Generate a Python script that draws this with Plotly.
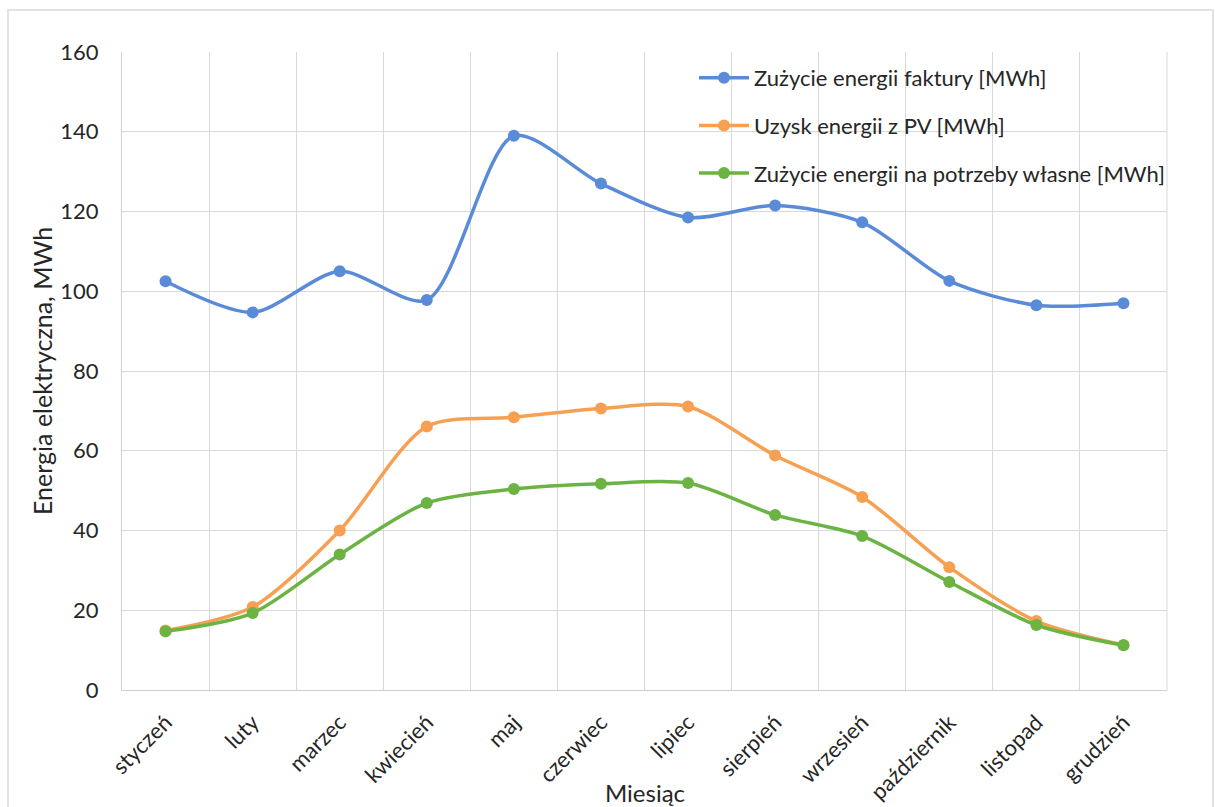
import plotly.graph_objects as go

# Months of the year (Polish)
miesiace = ["styczeń", "luty", "marzec", "kwiecień", "maj", "czerwiec",
            "lipiec", "sierpień", "wrzesień", "październik", "listopad", "grudzień"]

# Monthly energy values [MWh]
zuzycie_faktury = [102.5, 94.7, 105.0, 97.8, 139.0, 127.0,
                   118.5, 121.5, 117.3, 102.6, 96.5, 97.0]
uzysk_pv = [14.9, 20.8, 40.0, 66.1, 68.4, 70.6,
            71.1, 58.8, 48.4, 30.8, 17.3, 11.3]
zuzycie_wlasne = [14.7, 19.3, 34.0, 46.9, 50.4, 51.7,
                  51.9, 43.9, 38.6, 27.1, 16.3, 11.2]

series = [
    ("Zużycie energii faktury [MWh]", zuzycie_faktury, "#5A8BD8"),
    ("Uzysk energii z PV [MWh]", uzysk_pv, "#F7A052"),
    ("Zużycie energii na potrzeby własne [MWh]", zuzycie_wlasne, "#6BB343"),
]

FONT = "Lato, 'Open Sans', sans-serif"
TEXT = "#262626"

# plot-area geometry in pixels
W, H = 1215, 807
ML, MR, MT, MB = 122, 48, 52, 117
PW, PH = W - ML - MR, H - MT - MB


def px_x(x):
    return (x - ML) / PW


def px_y(y):
    return (H - MB - y) / PH


fig = go.Figure()
for i, (name, values, color) in enumerate(series):
    fig.add_trace(go.Scatter(
        x=miesiace, y=values, name=name,
        mode="lines+markers",
        line=dict(color=color, width=3.5, shape="spline", smoothing=0.8),
        marker=dict(color=color, size=12),
        legendgroup=f"g{i}",
    ))

fig.update_layout(
    width=W, height=H,
    margin=dict(l=ML, r=MR, t=MT, b=MB),
    paper_bgcolor="white", plot_bgcolor="white",
    font=dict(family=FONT, color=TEXT, size=20),
    showlegend=True,
    legend=dict(
        x=px_x(694), y=px_y(57), xanchor="left", yanchor="top",
        bgcolor="rgba(0,0,0,0)",
        font=dict(size=22, color=TEXT, family=FONT),
        traceorder="grouped", tracegroupgap=16,
        itemwidth=50,
    ),
    xaxis=dict(
        type="category",
        range=[-0.5, 11.5],
        tickson="boundaries",
        automargin=False,
        showgrid=True, gridcolor="#D9D9D9", gridwidth=1,
        showline=True, linecolor="#D0D0D0", linewidth=1,
        ticks="", tickangle=-45, ticklabelstandoff=10,
        tickfont=dict(size=22, color=TEXT),
    ),
    yaxis=dict(
        range=[0, 160], dtick=20,
        automargin=False,
        showgrid=True, gridcolor="#D9D9D9", gridwidth=1,
        zeroline=False, showline=True, linecolor="#D0D0D0", linewidth=1,
        ticks="", ticklabelstandoff=18,
        tickfont=dict(size=22, color=TEXT),
    ),
    annotations=[
        dict(text="Miesiąc", xref="paper", yref="paper",
             x=px_x(645), y=px_y(792), xanchor="center", yanchor="middle",
             showarrow=False, font=dict(size=24, color=TEXT)),
        dict(text="Energia elektryczna, MWh", xref="paper", yref="paper",
             x=px_x(42), y=px_y(371), xanchor="center", yanchor="middle",
             textangle=-90, showarrow=False, font=dict(size=25, color=TEXT)),
    ],
)

# light right edge of plot area
fig.add_shape(type="line", xref="paper", yref="paper", x0=1, x1=1, y0=0, y1=1,
              line=dict(color="#D9D9D9", width=1))
# outer chart frame
fig.add_shape(type="rect", xref="paper", yref="paper",
              x0=px_x(8), x1=px_x(1213), y0=px_y(830), y1=px_y(10),
              line=dict(color="#E3E3E3", width=2))

fig.write_html("out.html")
